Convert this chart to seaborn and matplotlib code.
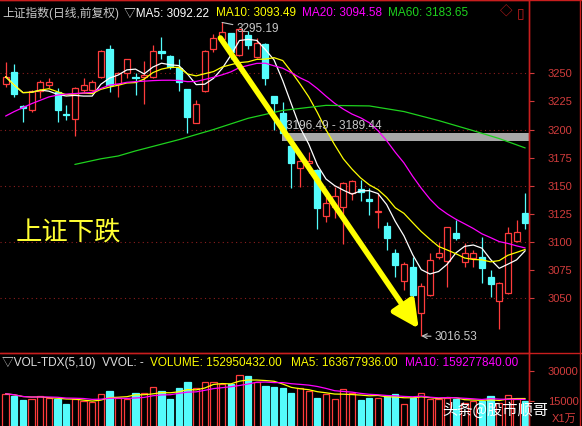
import numpy as np
import pandas as pd
import matplotlib
matplotlib.use('Agg')
import matplotlib.pyplot as plt
import seaborn as sns

sns.set_style('dark')
plt.rcParams['font.family'] = ['Liberation Sans', 'Noto Sans CJK SC', 'DejaVu Sans']

# daily candles
opens = [3240.5, 3251, 3220.5, 3217, 3234, 3240, 3233.7, 3213.5, 3209, 3235,
         3235, 3247, 3272, 3240.5, 3250, 3247, 3247, 3247, 3270, 3265.4,
         3254.4, 3235.8, 3206, 3234.6, 3272, 3280.5, 3285.5, 3266.4, 3284, 3264.7,
         3276, 3229.9, 3215, 3185.4, 3165.5, 3170.5, 3164, 3123.2, 3131.4, 3131.4,
         3143.9, 3146.8, 3138, 3127, 3114.3, 3090, 3065.7, 3078, 3036.7, 3053,
         3086.4, 3083.5, 3108.3, 3082.6, 3085.5, 3087, 3069.2, 3048, 3054.4, 3101.2,
         3125.5]
highs = [3260, 3258, 3222, 3235, 3244, 3245.5, 3236.7, 3222, 3238, 3245.5,
         3244, 3270.5, 3275, 3251.5, 3263, 3250, 3261, 3275, 3282.6, 3266,
         3262.4, 3236, 3226, 3270.5, 3285, 3295.19, 3286, 3290, 3288, 3281,
         3277, 3230, 3224.8, 3187, 3173, 3180.3, 3165, 3140.3, 3149, 3153.7,
         3155, 3155.2, 3147.7, 3143.3, 3118, 3093.5, 3082.6, 3087, 3063.3, 3090,
         3100.3, 3113.5, 3119.6, 3099.5, 3093, 3104.8, 3075, 3064.5, 3113.7, 3119.6,
         3143.3]
lows = [3238, 3229, 3207, 3216, 3228, 3237, 3207, 3208.5, 3194, 3233.7,
        3234.6, 3246, 3233.7, 3229, 3245.5, 3230.7, 3223, 3245.5, 3262.4, 3253.5,
        3234.6, 3197.3, 3205.6, 3233.7, 3269, 3279, 3263, 3265, 3272, 3264,
        3239.6, 3199.4, 3195, 3147.7, 3149, 3161, 3112, 3118, 3121, 3098.3,
        3137.4, 3136.8, 3124, 3112.2, 3093, 3068.6, 3057.4, 3051.4, 3016.53, 3052,
        3084.6, 3060, 3101.8, 3078, 3078, 3063.3, 3051.4, 3022.4, 3054, 3100.3,
        3111.3]
closes = [3247, 3232, 3219.5, 3234, 3242.6, 3242.6, 3217.4, 3212.5, 3236.7, 3239.6,
          3242.6, 3270, 3239.6, 3250.6, 3262.4, 3246, 3248.5, 3270, 3268, 3255.3,
          3242.6, 3211, 3222.7, 3270, 3281, 3286.4, 3269.3, 3289, 3275, 3276.6,
          3245.5, 3223.3, 3197.3, 3170.5, 3172.3, 3172.3, 3130, 3135, 3141, 3152.2,
          3154.6, 3144.5, 3136.2, 3128, 3103.3, 3079.6, 3080.5, 3053, 3061, 3084,
          3090.6, 3113, 3103.3, 3090, 3090, 3076.6, 3062.7, 3064, 3108.3, 3109.2,
          3117.2]
# volume in units of 10,000 shares
volumes = [18700, 17760, 15600, 16330, 17420, 16870, 16330, 13770, 15940, 15050,
           14450, 18700, 19980, 16870, 16330, 19050, 19050, 22000, 19980, 15940,
           21400, 24520, 21400, 24520, 24720, 23630, 23630, 28220, 27290, 24720,
           22350, 21810, 21400, 19050, 21400, 19980, 16870, 18700, 15940, 21070,
           19050, 15600, 16870, 16870, 17760, 18500, 13770, 16870, 19050, 15940,
           15940, 16660, 16110, 14300, 15180, 15190, 17800, 14400, 18300, 16040,
           15295]

# MA20 before a full 20-day window is on screen
ma20_head = [3212, 3216, 3219.5, 3223, 3226, 3229, 3230.7, 3231.5, 3232, 3232.5,
             3233, 3236.5, 3239.5, 3240.5, 3242, 3242.6, 3243, 3243.5, 3243.8]
# MA60 at some candles (line starts at candle 8)
ma60_idx = [8, 11, 13, 15, 19, 20, 24, 28, 32, 37, 42, 46, 50, 54, 57, 60]
ma60_val = [3169, 3174, 3176.5, 3181, 3189, 3191, 3200, 3210,
            3217, 3221.5, 3221, 3216, 3208, 3199, 3192, 3183.65]

df = pd.DataFrame({'open': opens, 'high': highs, 'low': lows, 'close': closes, 'vol': volumes})
df['i'] = np.arange(len(df))
df['ma5'] = df['close'].rolling(5, min_periods=1).mean()
df['ma10'] = df['close'].rolling(10, min_periods=1).mean()
ma20 = df['close'].rolling(20).mean().to_numpy()
ma20[:len(ma20_head)] = ma20_head
df['ma20'] = ma20
df['vma5'] = df['vol'].rolling(5, min_periods=1).mean()
df['vma10'] = df['vol'].rolling(10, min_periods=1).mean()
up = (df['close'] >= df['open']).to_numpy()

RED = '#FF3C3C'
CYAN = '#54FCFC'
BORDER = '#C81E1E'
LBL = '#D23C3C'

W, H = 582, 426
X0, DX = 5.6, 8.66
PY, PS = 73.3, 1.125


def price_at(y):
    return 3250 - (y - PY) / PS


def vol_at(y):
    return 15000 + (401.3 - y) * 493.4


fig = plt.figure(figsize=(W / 100, H / 100), dpi=100, facecolor='black')
ax = fig.add_axes([0, 1 - 353 / H, 529 / W, 353 / H])
axv = fig.add_axes([0, 0, 529 / W, (H - 353) / H])
xlim = (-X0 / DX, (529 - X0) / DX)

for a in (ax, axv):
    a.set_facecolor('black')
    a.grid(False)
    a.set_xlim(*xlim)
    a.set_xticks([])
    for s in ('left', 'bottom'):
        a.spines[s].set_visible(False)
    for s in ('right', 'top'):
        a.spines[s].set_color(BORDER)
        a.spines[s].set_linewidth(1)
    a.yaxis.tick_right()
    a.tick_params(axis='y', right=True, left=False, labelright=True, labelleft=False,
                  length=3.6, width=0.8, color=LBL, pad=10, labelcolor=LBL, labelsize=8)

ax.set_ylim(price_at(353), price_at(0))
ax.set_yticks(range(3050, 3251, 25))
for lv in range(3050, 3251, 50):
    ax.axhline(lv, color='#8C1E1E', lw=0.8, ls=(0, (1, 3)), zorder=0)

# gray pressure band
ax.fill_between([31.9, xlim[1]], 3189.44, 3196.49, color='#A8A8A8', lw=0, zorder=1)
ax.text(32.4, 3203.5, '3196.49 - 3189.44', color='#C8C8C8', fontsize=8.5, va='center', zorder=6)

# candles
i = df['i'].to_numpy()
body_lo = np.minimum(df['open'], df['close']).to_numpy()
body_h = np.maximum(np.abs(df['close'] - df['open']).to_numpy(), 0.4)
ax.vlines(i[up], df['low'][up], df['high'][up], color=RED, lw=0.9, zorder=2)
ax.vlines(i[~up], df['low'][~up], df['high'][~up], color=CYAN, lw=0.9, zorder=2)
ax.bar(i[up], body_h[up], bottom=body_lo[up], width=0.7, facecolor='black',
       edgecolor=RED, lw=0.9, zorder=3)
ax.bar(i[~up], body_h[~up], bottom=body_lo[~up], width=0.7, facecolor=CYAN,
       edgecolor=CYAN, lw=0.9, zorder=3)

# moving averages
sns.lineplot(data=df, x='i', y='ma5', ax=ax, color='white', lw=0.9, zorder=4)
sns.lineplot(data=df, x='i', y='ma10', ax=ax, color='#FFFF00', lw=0.9, zorder=4)
sns.lineplot(data=df, x='i', y='ma20', ax=ax, color='#FF00FF', lw=0.9, zorder=4)
sns.lineplot(x=ma60_idx, y=ma60_val, ax=ax, color='#1ED21E', lw=0.9, zorder=4)
ax.set_xlabel('')
ax.set_ylabel('')

# high / low marks
ax.annotate('3295.19', xy=(25, 3295.19), xytext=(14, -7), textcoords='offset pixels',
            color='#C8C8C8', fontsize=8.5, va='center',
            arrowprops=dict(arrowstyle='-', color='#C8C8C8', lw=0.8, shrinkA=0, shrinkB=0))
ax.annotate('3016.53', xy=(48, 3016.53), xytext=(13, -1), textcoords='offset pixels',
            color='#C8C8C8', fontsize=8.5, va='center',
            arrowprops=dict(arrowstyle='->', color='#C8C8C8', lw=0.8, shrinkA=0, shrinkB=0))

# big yellow arrow
ax.annotate('', xy=(47.7, 3023.0), xytext=(24.8, 3281.4),
            arrowprops=dict(arrowstyle='-|>,head_length=1.0,head_width=0.5', lw=4,
                            color='#FFFF00', mutation_scale=16, shrinkA=0, shrinkB=0),
            zorder=7)
ax.text(1.1, price_at(232), '上证下跌', color='#FFFF33', fontsize=19,
        family=['Noto Sans CJK SC'], va='center', zorder=6)

# volume panel
axv.set_ylim(vol_at(H), vol_at(353))
axv.set_yticks([15000, 30000])
axv.bar(i[up], df['vol'][up], width=0.72, facecolor='black', edgecolor=RED, lw=0.9, zorder=2)
axv.bar(i[~up], df['vol'][~up], width=0.72, facecolor=CYAN, edgecolor=CYAN, lw=0.9, zorder=2)
sns.lineplot(data=df, x='i', y='vma5', ax=axv, color='#FFFF00', lw=0.9, zorder=3)
sns.lineplot(data=df, x='i', y='vma10', ax=axv, color='#FF00FF', lw=0.9, zorder=3)
axv.set_xlabel('')
axv.set_ylabel('')

# header texts
def ftext(x, y, s, c, fs=8.5, **kw):
    fig.text(x / W, 1 - y / H, s, color=c, fontsize=fs, va='center', **kw)


ftext(2, 13, '上证指数(日线,前复权)', '#C8C8C8')
ftext(124, 13, '▽MA5: 3092.22', 'white')
ftext(216, 13, 'MA10: 3093.49', '#FFFF00')
ftext(302, 13, 'MA20: 3094.58', '#FF00FF')
ftext(388, 13, 'MA60: 3183.65', '#1ED21E')
ftext(500, 13, '◇', BORDER, 9)
ftext(517, 13, '▯', BORDER, 10)

ftext(2, 363, '▽VOL-TDX(5,10)  VVOL: -', '#E0E0E0')
ftext(150, 363, 'VOLUME: 152950432.00', '#FFFF00')
ftext(291, 363, 'MA5: 163677936.00', '#FFFF00')
ftext(405, 363, 'MA10: 159277840.00', '#FF00FF')
ftext(552, 419, 'X1万', LBL, 8)
ftext(442, 410, '头条@股市顺哥', 'white', 11, family=['Noto Sans CJK SC'])

# frame lines
fig.add_artist(plt.Line2D([0, 1], [1 - 353 / H] * 2, color=BORDER, lw=1))
fig.add_artist(plt.Line2D([529 / W] * 2, [0, 1], color=BORDER, lw=1))
fig.add_artist(plt.Line2D([580 / W] * 2, [0, 1], color=BORDER, lw=1))
fig.add_artist(plt.Line2D([0, 1], [0.999, 0.999], color=BORDER, lw=1))

fig.savefig('out.png', dpi=100, facecolor='black')
